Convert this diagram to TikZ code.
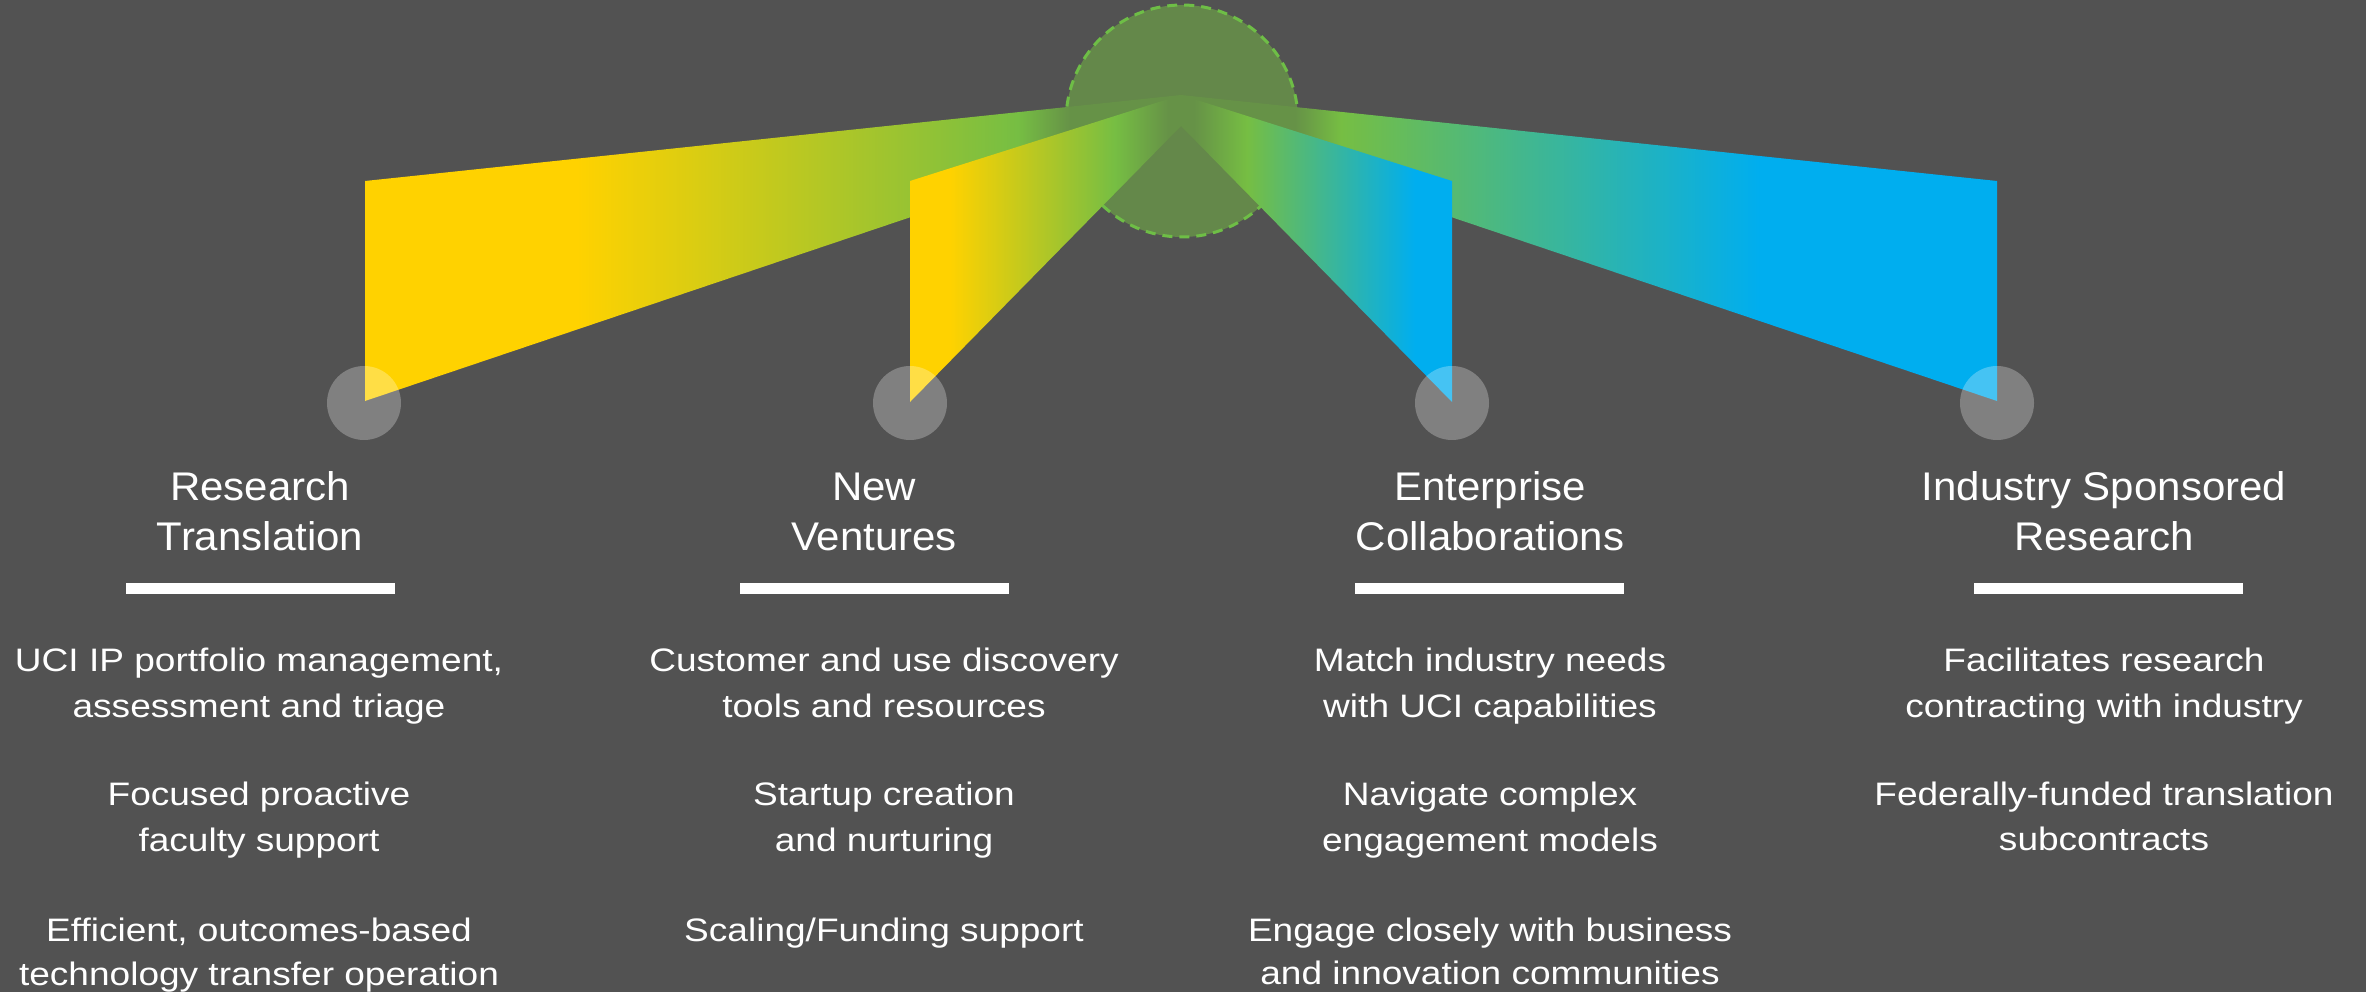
\documentclass[tikz,border=0pt]{standalone}
\usepackage{fontspec}
\setmainfont{Liberation Sans}
\newfontfamily\titlefont[FakeStretch=1.05]{Liberation Sans}
\newfontfamily\bodyfont[FakeStretch=1.14]{Liberation Sans}
\definecolor{bg}{RGB}{82,82,82}
\definecolor{fanyellow}{RGB}{255,210,0}
\definecolor{fangreen}{RGB}{118,190,67}
\definecolor{fanblue}{RGB}{0,174,239}
\definecolor{fanmuted}{RGB}{102,146,71}
\definecolor{hubfill}{RGB}{100,136,74}
\definecolor{hubline}{RGB}{110,190,70}
\pgfdeclarehorizontalshading{outerleft}{100bp}{color(0bp)=(fanyellow); color(38bp)=(fanyellow); color(65bp)=(fangreen); color(68.2bp)=(fanmuted); color(100bp)=(fanmuted)}
\pgfdeclarehorizontalshading{innerleft}{100bp}{color(0bp)=(fanyellow); color(32.4bp)=(fanyellow); color(62.8bp)=(fangreen); color(72.6bp)=(fanmuted); color(100bp)=(fanmuted)}
\pgfdeclarehorizontalshading{innerright}{100bp}{color(0bp)=(fanmuted); color(27.4bp)=(fanmuted); color(37.2bp)=(fangreen); color(68.2bp)=(fanblue); color(100bp)=(fanblue)}
\pgfdeclarehorizontalshading{outerright}{100bp}{color(0bp)=(fanmuted); color(32bp)=(fanmuted); color(34.8bp)=(fangreen); color(60.5bp)=(fanblue); color(100bp)=(fanblue)}
\tikzset{
  hub/.style={circle, minimum size=232pt, inner sep=0pt, fill=hubfill, draw=hubline, line width=3pt, dash pattern=on 10pt off 7pt},
  dot/.style={circle, minimum size=74pt, inner sep=0pt, fill=white, fill opacity=0.27},
  bar/.style={rectangle, minimum width=269pt, minimum height=11pt, inner sep=0pt, fill=white},
  ttl/.style={anchor=base, inner sep=0pt, text=white, font=\titlefont\fontsize{40}{48}\selectfont},
  bdy/.style={anchor=base, inner sep=0pt, text=white, font=\bodyfont\fontsize{32.5}{40}\selectfont}
}
\begin{document}
\begin{tikzpicture}[x=1pt, y=-1pt]
\useasboundingbox (0,0) rectangle (2366,992);
\fill[bg] (0,0) rectangle (2366,992);
% hub
\node[hub] (hub) at (1182,121) {};
\coordinate (apexT) at (1181,95);
\coordinate (apexB) at (1181,126);
% fan ends
\coordinate (f1t) at (365,181); \coordinate (f1b) at (365,401);
\coordinate (f2t) at (910,181); \coordinate (f2b) at (910,402);
\coordinate (f3t) at (1452,181); \coordinate (f3b) at (1452,402);
\coordinate (f4t) at (1997,181); \coordinate (f4b) at (1997,401);
% outer fans
\shade[shading=outerleft] (f1t) -- (apexT) -- (apexB) -- (f1b) -- cycle;
\shade[shading=outerright] (f4t) -- (apexT) -- (apexB) -- (f4b) -- cycle;
% inner fans
\shade[shading=innerleft] (f2t) -- (apexT) -- (apexB) -- (f2b) -- cycle;
\shade[shading=innerright] (f3t) -- (apexT) -- (apexB) -- (f3b) -- cycle;
% dots
\node[dot] (d1) at (364,403) {};
\node[dot] (d2) at (910,403) {};
\node[dot] (d3) at (1452,403) {};
\node[dot] (d4) at (1997,403) {};
% titles
\node[ttl] (t1a) at (260,500) {Research};
\node[ttl] (t1b) at (260,550) {Translation};
\node[ttl] (t2a) at (874,500) {New};
\node[ttl] (t2b) at (874,550) {Ventures};
\node[ttl] (t3a) at (1490,500) {Enterprise};
\node[ttl] (t3b) at (1490,550) {Collaborations};
\node[ttl] (t4a) at (2104,500) {Industry Sponsored};
\node[ttl] (t4b) at (2104,550) {Research};
% bars
\node[bar] (bar1) at (260.5,588.5) {};
\node[bar] (bar2) at (874,588.5) {};
\node[bar] (bar3) at (1489,588.5) {};
\node[bar] (bar4) at (2108.5,588.5) {};
% body column 1
\node[bdy] (b1a) at (259,671) {UCI IP portfolio management,};
\node[bdy] (b1b) at (259,717) {assessment and triage};
\node[bdy] (b1c) at (259,805) {Focused proactive};
\node[bdy] (b1d) at (259,851) {faculty support};
\node[bdy] (b1e) at (259,941) {Efficient, outcomes-based};
\node[bdy] (b1f) at (259,985) {technology transfer operation};
% body column 2
\node[bdy] (b2a) at (884,671) {Customer and use discovery};
\node[bdy] (b2b) at (884,717) {tools and resources};
\node[bdy] (b2c) at (884,805) {Startup creation};
\node[bdy] (b2d) at (884,851) {and nurturing};
\node[bdy] (b2e) at (884,941) {Scaling/Funding support};
% body column 3
\node[bdy] (b3a) at (1490,671) {Match industry needs};
\node[bdy] (b3b) at (1490,717) {with UCI capabilities};
\node[bdy] (b3c) at (1490,805) {Navigate complex};
\node[bdy] (b3d) at (1490,851) {engagement models};
\node[bdy] (b3e) at (1490,941) {Engage closely with business};
\node[bdy] (b3f) at (1490,984) {and innovation communities};
% body column 4
\node[bdy] (b4a) at (2104,671) {Facilitates research};
\node[bdy] (b4b) at (2104,717) {contracting with industry};
\node[bdy] (b4c) at (2104,805) {Federally-funded translation};
\node[bdy] (b4d) at (2104,850) {subcontracts};
\end{tikzpicture}
\end{document}
